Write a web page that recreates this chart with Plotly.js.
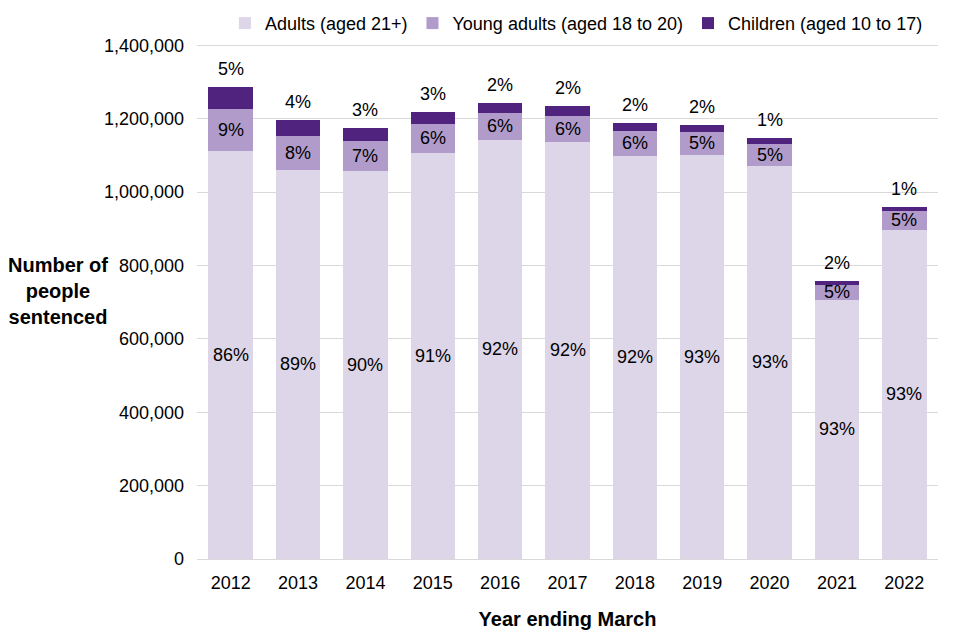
<!DOCTYPE html>
<html>
<head>
<meta charset="utf-8">
<script src="https://cdn.plot.ly/plotly-3.0.1.min.js"></script>
<style>html,body{margin:0;padding:0;background:#fff;}#chart{width:960px;height:640px;}</style>
</head>
<body>
<div id="chart"></div>
<script>
// Data
var years = ['2012','2013','2014','2015','2016','2017','2018','2019','2020','2021','2022'];
var adults = [1112600, 1060800, 1058100, 1107200, 1142600, 1137100, 1099000, 1101700, 1071700, 706600, 897300];
var youngAdults = [114400, 92700, 81800, 79000, 73600, 70900, 68100, 62700, 60000, 40900, 51800];
var children = [60000, 43500, 35400, 32700, 27200, 27200, 21800, 19100, 16300, 10900, 10900];
var adultsPct = ['86%','89%','90%','91%','92%','92%','92%','93%','93%','93%','93%'];
var youngPct = ['9%','8%','7%','6%','6%','6%','6%','5%','5%','5%','5%'];
var childPct = ['5%','4%','3%','3%','2%','2%','2%','2%','1%','2%','1%'];
var seriesNames = ['Adults (aged 21+)', 'Young adults (aged 18 to 20)', 'Children (aged 10 to 17)'];
var yTicks = [0, 200000, 400000, 600000, 800000, 1000000, 1200000, 1400000];

var colors = ['#DDD5E8', '#B09BCB', '#50237F'];
var FONT = 'Liberation Sans, Arial, sans-serif';

var series = [adults, youngAdults, children];
var traces = series.map(function (vals, i) {
  return {
    type: 'bar', x: years, y: vals, name: seriesNames[i],
    marker: {color: colors[i]}, hoverinfo: 'x+y+name'
  };
});

var annotations = [];
years.forEach(function (yr, k) {
  var a = adults[k], ya = youngAdults[k], c = children[k];
  annotations.push({x: k, y: a / 2, xref: 'x', yref: 'y', text: adultsPct[k], showarrow: false,
    font: {family: FONT, size: 18, color: '#000'}});
  annotations.push({x: k, y: a + ya / 2, xref: 'x', yref: 'y', text: youngPct[k], showarrow: false,
    font: {family: FONT, size: 18, color: '#000'}});
  annotations.push({x: k, y: a + ya + c, xref: 'x', yref: 'y', text: childPct[k], showarrow: false,
    yanchor: 'bottom', yshift: 6, font: {family: FONT, size: 18, color: '#000'}});
});
annotations.push({
  xref: 'paper', yref: 'paper', x: -0.188, y: 0.52, xanchor: 'center', yanchor: 'middle',
  text: '<b>Number of</b><br><b>people</b><br><b>sentenced</b>', showarrow: false, align: 'center',
  font: {family: FONT, size: 20, color: '#000'}
});

var layout = {
  width: 960, height: 640,
  margin: {l: 197, r: 22, t: 43, b: 81, pad: 0, autoexpand: false},
  paper_bgcolor: '#fff', plot_bgcolor: '#fff',
  barmode: 'stack', bargap: 0.34,
  font: {family: FONT, size: 18, color: '#000'},
  xaxis: {
    type: 'category', categoryorder: 'array', categoryarray: years,
    range: [-0.5, years.length - 0.5], automargin: false,
    showgrid: false, showline: true, linecolor: '#D9D9D9', linewidth: 1,
    ticks: '', ticklabelstandoff: 7,
    tickfont: {family: FONT, size: 18, color: '#000'},
    title: {text: '<b>Year ending March</b>', standoff: 20, font: {family: FONT, size: 20, color: '#000'}}
  },
  yaxis: {
    range: [0, 1406000], automargin: false,
    tickvals: yTicks, tickformat: ',d',
    showgrid: true, gridcolor: '#D9D9D9', gridwidth: 1,
    zeroline: false, showline: false, ticks: '', ticklabelstandoff: 12,
    tickfont: {family: FONT, size: 18, color: '#000'}
  },
  legend: {
    orientation: 'h', traceorder: 'normal', x: 0.512, xanchor: 'center', y: 1.038, yanchor: 'middle',
    font: {family: FONT, size: 18, color: '#000'}, bgcolor: 'rgba(0,0,0,0)', itemclick: false
  },
  annotations: annotations
};

Plotly.newPlot('chart', traces, layout, {displayModeBar: false, staticPlot: true});
</script>
</body>
</html>
